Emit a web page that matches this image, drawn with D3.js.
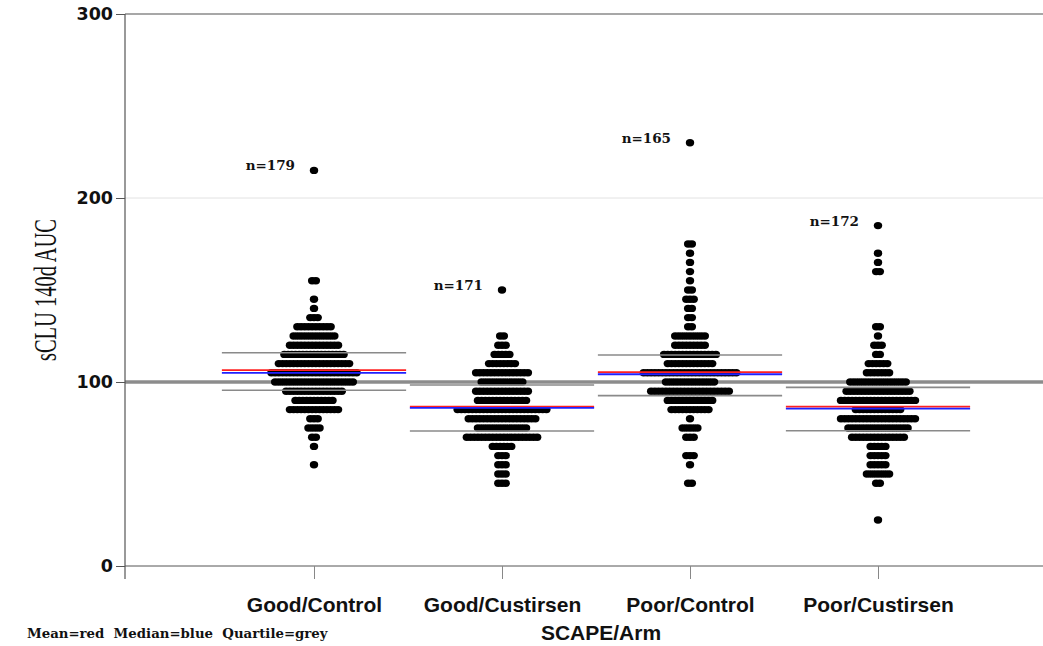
<!DOCTYPE html>
<html>
<head>
<meta charset="utf-8">
<script src="https://cdn.jsdelivr.net/npm/d3@7"></script>
<style>
  html, body { margin: 0; padding: 0; background: #fff; }
  svg { display: block; }
</style>
</head>
<body>
<div id="chart"></div>
<script>
// Categories on the x axis
var categories = ['Good/Control', 'Good/Custirsen', 'Poor/Control', 'Poor/Custirsen'];
// Sample size of every group
var nCounts = [179, 171, 165, 172];
// Summary statistics
var meanVals = [106.5, 86.6, 105.4, 86.6];
var medianVals = [105.0, 85.9, 104.2, 85.5];
var q1Vals = [95.5, 73.4, 92.6, 73.5];
var q3Vals = [115.9, 98.4, 114.7, 97.1];
// Y axis ticks and the reference value
var yTicks = [0, 100, 200, 300];
var refValue = 100;

// Dot plot bins: [value, number of dots]
var goodControlBins = [[215,1],[155,2],[145,1],[140,1],[135,3],[130,10],[125,12],[120,14],[115,17],[110,20],
    [105,24],[100,22],[95,16],[90,11],[85,14],[80,3],[75,4],[70,2],[65,1],[55,1]];
var goodCustirsenBins = [[150,1],[125,2],[120,3],[115,5],[110,8],[105,15],[100,12],[95,15],[90,14],[85,25],
    [80,19],[75,14],[70,20],[65,6],[60,3],[55,3],[50,3],[45,3]];
var poorControlBins = [[230,1],[175,2],[170,1],[165,1],[160,1],[155,1],[150,2],[145,3],[140,2],[135,2],[130,2],
    [125,9],[120,9],[115,15],[110,13],[105,26],[100,14],[95,22],[90,13],[85,11],[80,1],[75,5],[70,3],[60,3],[55,1],[45,2]];
var poorCustirsenBins = [[185,1],[170,1],[165,1],[160,2],[130,2],[125,1],[120,3],[115,2],[110,6],[105,7],[100,16],
    [95,18],[90,21],[85,13],[80,21],[75,17],[70,15],[65,5],[60,5],[55,5],[50,7],[45,2],[25,1]];
var groupBins = [goodControlBins, goodCustirsenBins, poorControlBins, poorCustirsenBins];

var width = 1043, height = 646;

// Horizontal distance between neighbouring dots of a row
var dotStep = 3.7;

var svg = d3.select('#chart').append('svg')
    .attr('width', width)
    .attr('height', height);

svg.append('rect').attr('width', width).attr('height', height).attr('fill', '#fff');

// Scales
var y = d3.scaleLinear().domain([0, 300]).range([566, 14]);
var x = d3.scalePoint().domain(categories).range([126, 1066]).padding(1);
var xLeft = 125;
var halfLine = x.step() * 0.49;

// Light grid line at 200 and the frame line at 300
svg.append('line')
    .attr('x1', xLeft).attr('x2', width)
    .attr('y1', y(200)).attr('y2', y(200))
    .attr('stroke', '#e2e2e2').attr('stroke-width', 1);
svg.append('line')
    .attr('x1', xLeft).attr('x2', width)
    .attr('y1', y(300)).attr('y2', y(300))
    .attr('stroke', '#8a8a8a').attr('stroke-width', 1.6);

// Thick reference line
svg.append('line')
    .attr('x1', xLeft).attr('x2', width)
    .attr('y1', y(refValue)).attr('y2', y(refValue))
    .attr('stroke', '#8c8c8c').attr('stroke-width', 3.6);

// Y axis
var yAxis = svg.append('g')
    .attr('transform', 'translate(' + xLeft + ',0)')
    .call(d3.axisLeft(y).tickValues(yTicks).tickSize(9).tickPadding(3));
yAxis.select('.domain').remove();
yAxis.selectAll('.tick line').attr('stroke', '#555');
yAxis.selectAll('.tick text')
    .attr('fill', '#111')
    .style('font', 'bold 17.5px "DejaVu Sans"');
svg.append('line')
    .attr('x1', xLeft).attr('x2', xLeft)
    .attr('y1', y(300)).attr('y2', y(0) + 13)
    .attr('stroke', '#555').attr('stroke-width', 1.2);

// X axis
var xAxis = svg.append('g')
    .attr('transform', 'translate(0,' + y(0) + ')')
    .call(d3.axisBottom(x).tickSize(13).tickSizeOuter(0).tickPadding(18));
xAxis.select('.domain').attr('stroke', '#555').attr('d', 'M' + xLeft + ',0H' + width);
xAxis.selectAll('.tick line').attr('stroke', '#888');
xAxis.selectAll('.tick text')
    .attr('fill', '#111')
    .style('font', 'bold 21px "Liberation Sans"');

// Dots of every group
categories.forEach(function(cat, gi) {
    var dots = [];
    groupBins[gi].forEach(function(bin) {
        for (var i = 0; i < bin[1]; i++) {
            dots.push({ value: bin[0], offset: i - (bin[1] - 1) / 2 });
        }
    });
    svg.append('g')
        .selectAll('ellipse')
        .data(dots)
        .enter().append('ellipse')
        .attr('cx', function(d) { return x(cat) + d.offset * dotStep; })
        .attr('cy', function(d) { return y(d.value); })
        .attr('rx', 4.2)
        .attr('ry', 3.7)
        .attr('fill', '#000');
});

// Statistic lines drawn over the dots
var statLines = [
    { vals: q3Vals, color: '#8a8a8a', w: 1.6 },
    { vals: q1Vals, color: '#8a8a8a', w: 1.6 },
    { vals: meanVals, color: '#ff2020', w: 1.8 },
    { vals: medianVals, color: '#2020ff', w: 1.8 }
];
statLines.forEach(function(s) {
    svg.append('g')
        .selectAll('line')
        .data(categories)
        .enter().append('line')
        .attr('x1', function(d) { return x(d) - halfLine; })
        .attr('x2', function(d) { return x(d) + halfLine; })
        .attr('y1', function(d, i) { return y(s.vals[i]); })
        .attr('y2', function(d, i) { return y(s.vals[i]); })
        .attr('stroke', s.color)
        .attr('stroke-width', s.w);
});

// n= labels next to the highest dot
svg.append('g')
    .selectAll('text')
    .data(categories)
    .enter().append('text')
    .attr('x', function(d) { return x(d) - 19; })
    .attr('y', function(d, i) { return y(d3.max(groupBins[i], function(b) { return b[0]; })); })
    .attr('text-anchor', 'end')
    .style('font', 'bold 13.5px "DejaVu Serif"')
    .attr('fill', '#111')
    .text(function(d, i) { return 'n=' + nCounts[i]; });

// Y axis title
svg.append('text')
    .attr('transform', 'translate(56,' + y(150) + ') rotate(-90) scale(0.66,1)')
    .attr('text-anchor', 'middle')
    .style('font', '31px "Liberation Serif"')
    .attr('fill', '#111')
    .text('sCLU 140d AUC');

// X axis title
svg.append('text')
    .attr('x', 601)
    .attr('y', 640)
    .attr('text-anchor', 'middle')
    .style('font', 'bold 21px "Liberation Sans"')
    .attr('fill', '#111')
    .text('SCAPE/Arm');

// Legend of the line colours
svg.append('text')
    .attr('x', 27)
    .attr('y', 638)
    .style('font', 'bold 13.3px "DejaVu Serif"')
    .style('white-space', 'pre')
    .attr('fill', '#111')
    .text('Mean=red  Median=blue  Quartile=grey');
</script>
</body>
</html>
